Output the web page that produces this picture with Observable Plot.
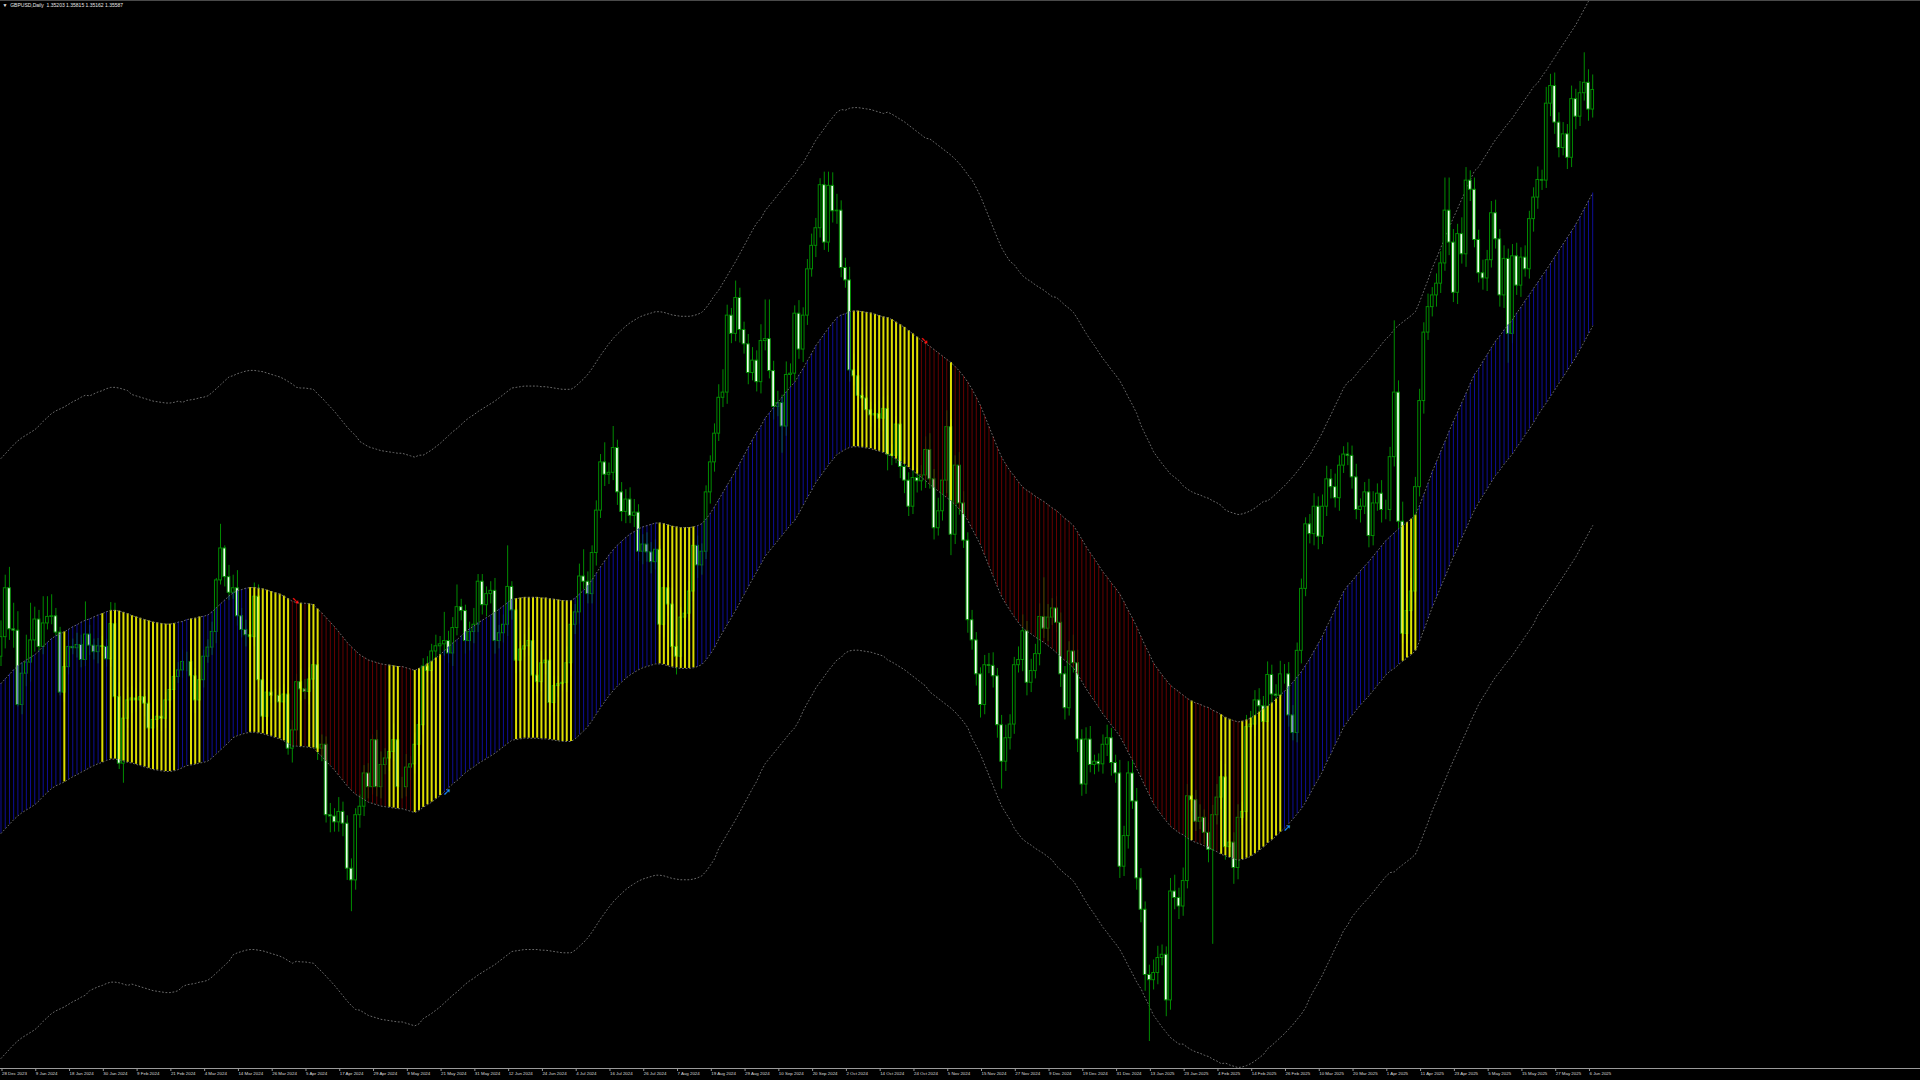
<!DOCTYPE html>
<html><head><meta charset="utf-8">
<script src="https://cdn.jsdelivr.net/npm/d3@7"></script>
<script src="https://cdn.jsdelivr.net/npm/@observablehq/plot@0.6"></script>
<style>html,body{margin:0;padding:0;background:#000;overflow:hidden}</style>
</head><body><div id="chart"></div>
<script>
const symbolHeader = "\u25BC  GBPUSD,Daily  1.35203 1.35815 1.35162 1.35587";
const tickLabels = ["28 Dec 2023","9 Jan 2024","18 Jan 2024","30 Jan 2024","9 Feb 2024","21 Feb 2024","4 Mar 2024","14 Mar 2024","26 Mar 2024","5 Apr 2024","17 Apr 2024","29 Apr 2024","9 May 2024","21 May 2024","31 May 2024","12 Jun 2024","24 Jun 2024","4 Jul 2024","16 Jul 2024","26 Jul 2024","7 Aug 2024","19 Aug 2024","29 Aug 2024","10 Sep 2024","20 Sep 2024","2 Oct 2024","14 Oct 2024","24 Oct 2024","5 Nov 2024","15 Nov 2024","27 Nov 2024","9 Dec 2024","19 Dec 2024","31 Dec 2024","13 Jan 2025","23 Jan 2025","4 Feb 2025","14 Feb 2025","26 Feb 2025","10 Mar 2025","20 Mar 2025","1 Apr 2025","11 Apr 2025","23 Apr 2025","5 May 2025","15 May 2025","27 May 2025","6 Jun 2025"];
const barsPerLabel = 8;
const firstOpen = 1.2690;
const closes = [
1.2720,1.2795,1.2732,1.2730,1.2616,1.2664,1.2681,1.2715,1.2747,1.2705,
1.2741,1.2751,1.2752,1.2727,1.2635,1.2674,1.2705,1.2703,1.2708,1.2685,
1.2724,1.2707,1.2697,1.2706,1.2705,1.2686,1.2740,1.2628,1.2526,1.2595,
1.2623,1.2626,1.2623,1.2628,1.2618,1.2580,1.2593,1.2598,1.2595,1.2623,
1.2639,1.2659,1.2669,1.2682,1.2682,1.2660,1.2623,1.2654,1.2690,1.2704,
1.2728,1.2807,1.2856,1.2812,1.2788,1.2795,1.2752,1.2731,1.2723,1.2720,
1.2782,1.2654,1.2598,1.2635,1.2630,1.2630,1.2620,1.2632,1.2549,1.2577,
1.2651,1.2640,1.2636,1.2655,1.2677,1.2549,1.2555,1.2447,1.2445,1.2436,
1.2452,1.2434,1.2365,1.2347,1.2447,1.2460,1.2511,1.2490,1.2562,1.2490,
1.2524,1.2534,1.2544,1.2562,1.2490,1.2490,1.2520,1.2525,1.2555,1.2585,
1.2675,1.2668,1.2698,1.2706,1.2709,1.2714,1.2695,1.2734,1.2766,1.2760,
1.2714,1.2728,1.2739,1.2805,1.2769,1.2786,1.2791,1.2714,1.2726,1.2739,
1.2797,1.2761,1.2684,1.2701,1.2706,1.2714,1.2661,1.2651,1.2680,1.2684,
1.2619,1.2645,1.2648,1.2650,1.2680,1.2739,1.2758,1.2813,1.2805,1.2786,
1.2849,1.2914,1.2988,1.2969,1.2972,1.3010,1.2942,1.2912,1.2931,1.2906,
1.2911,1.2851,1.2862,1.2850,1.2835,1.2854,1.2739,1.2795,1.2770,1.2705,
1.2690,1.2750,1.2756,1.2790,1.2860,1.2830,1.2851,1.2942,1.2988,1.3032,
1.3087,1.3095,1.3213,1.3185,1.3240,1.3191,1.3169,1.3125,1.3144,1.3111,
1.3174,1.3177,1.3128,1.3073,1.3079,1.3043,1.3122,1.3124,1.3216,1.3161,
1.3213,1.3284,1.3320,1.3347,1.3413,1.3325,1.3412,1.3373,1.3374,1.3286,
1.3267,1.3129,1.3120,1.3090,1.3086,1.3068,1.3060,1.3062,1.3055,1.3070,
1.3000,1.2998,1.3046,1.2981,1.2960,1.2920,1.2964,1.2959,1.2968,1.3007,
1.2962,1.2887,1.2913,1.2960,1.3042,1.2877,1.2983,1.2925,1.2868,1.2746,
1.2715,1.2663,1.2616,1.2677,1.2676,1.2660,1.2585,1.2529,1.2565,1.2586,
1.2677,1.2685,1.2729,1.2650,1.2668,1.2694,1.2751,1.2733,1.2750,1.2764,
1.2742,1.2663,1.2611,1.2698,1.2680,1.2563,1.2494,1.2563,1.2524,1.2529,
1.2525,1.2555,1.2565,1.2527,1.2511,1.2368,1.2415,1.2511,1.2468,1.2350,
1.2302,1.2202,1.2194,1.2205,1.2228,1.2233,1.2163,1.2330,1.2320,1.2307,
1.2346,1.2476,1.2470,1.2437,1.2443,1.2420,1.2394,1.2447,1.2474,1.2505,
1.2398,1.2405,1.2366,1.2443,1.2452,1.2582,1.2586,1.2623,1.2614,1.2590,
1.2662,1.2632,1.2630,1.2663,1.2663,1.2600,1.2573,1.2699,1.2794,1.2893,
1.2878,1.2920,1.2874,1.2920,1.2962,1.2950,1.2933,1.2983,1.3000,1.2998,
1.2965,1.2915,1.2920,1.2942,1.2875,1.2925,1.2940,1.2915,1.2915,1.2996,
1.3095,1.2897,1.2725,1.2760,1.2790,1.2950,1.3082,1.3187,1.3226,1.3244,
1.3262,1.3293,1.3374,1.3325,1.3248,1.3338,1.3307,1.3420,1.3406,1.3329,
1.3278,1.3270,1.3298,1.3370,1.3330,1.3244,1.3300,1.3185,1.3304,1.3259,
1.3302,1.3284,1.3361,1.3394,1.3421,1.3420,1.3538,1.3565,1.3509,1.3470,
1.3491,1.3455,1.3545,1.3518,1.3554,1.3570,1.3529,1.3559];
const upperWickPips = [
25,20,32,40,29,16,42,57,19,14, 41,31,33,12,8,6,10,12,18,15, 50,14,10,12,15,12,33,32,22,5,
20,18,15,22,12,20,15,25,18,12, 15,10,12,18,15,20,12,15,10,12, 15,3,37,4,18,20,27,12,15,20,
21,18,12,15,20,10,12,15,10,15, 12,20,15,18,25,20,15,12,18,12, 22,15,12,15,10,18,12,15,8,15,
20,15,90,25,15,15,20,12,18,15, 12,15,11,17,12,44,15,16,34,12, 9,15,25,11,11,11,14,19,12,15,
63,8,15,12,18,20,15,22,18,15, 18,15,12,20,25,15,12,19,41,15, 11,15,12,30,15,33,12,15,15,18,
20,12,15,18,15,15,6,45,20,25, 18,15,20,15,10,15,12,10,10,15, 20,35,16,11,26,15,12,15,20,15,
25,60,60,15,18,12,20,15,12,20, 12,15,18,15,10,20,21,20,25,15, 15,20,25,15,12,18,12,15,20,18,
20,15,12,30,15,12,18,15,15,20, 25,15,20,15,25,12,15,20,18,12, 15,12,10,15,18,20,12,15,20,15,
12,20,25,15,18,15,20,60,20,15, 18,15,12,15,25,20,15,18,20,10, 12,15,20,15,12,20,15,18,25,20,
15,12,15,20,18,15,12,20,25,15, 20,18,25,15,20,12,15,15,20,25, 20,15,15,20,15,18,20,15,18,15,
20,15,15,20,15,18,15,12,15,10, 15,20,15,18,20,15,20,15,12,18, 15,20,12,15,20,18,15,20,15,15,
110,18,30,25,20,15,18,15,20,12, 15,18,50,50,20,15,25,20,15,18, 15,20,15,18,20,15,20,15,18,20,
15,18,12,15,20,15,25,18,20,15, 18,15,20,15,18,46,20,23];
const lowerWickPips = [
15,18,17,27,3,15,20,30,18,8, 12,10,12,6,5,15,12,10,15,12, 10,15,12,18,15,12,12,3,9,30,
15,20,18,12,20,44,15,12,20,15, 12,15,10,12,15,18,20,15,12,10, 12,18,7,15,12,10,15,12,18,20,
15,12,20,15,12,10,15,12,10,22, 15,18,12,20,15,18,20,12,25,15, 15,20,18,48,15,20,15,18,12,15,
18,15,20,15,25,18,15,20,15,18, 15,18,20,12,15,18,15,20,12,15, 20,15,18,12,15,18,15,20,12,15,
18,15,20,18,12,15,20,18,15,18, 20,15,18,12,15,20,15,18,12,15, 15,20,12,18,15,12,20,15,18,12,
18,15,20,15,18,12,15,20,18,15, 28,15,18,12,15,20,15,12,18,15, 12,15,18,15,12,20,15,18,12,15,
18,15,12,20,15,41,15,18,12,15, 20,15,12,18,15,12,15,18,20,15, 12,18,15,20,12,15,18,12,15,20,
25,15,12,18,20,15,12,18,15,20, 15,18,12,15,20,32,15,18,12,20, 15,18,20,15,12,18,20,42,15,18,
15,12,18,20,15,12,18,15,20,12, 15,20,18,12,15,20,18,15,12,15, 12,15,18,20,15,18,15,20,12,18,
20,25,94,15,18,12,25,15,18,20, 15,12,18,15,12,18,20,145,15,18, 20,15,25,18,12,15,20,18,15,12,
15,18,12,20,15,18,12,15,20,12, 15,18,20,12,15,18,15,20,12,15, 18,15,20,12,18,15,12,20,15,18,
15,20,15,15,54,18,15,20,12,15, 18,15,12,20,15,18,15,20,18,12, 15,18,20,12,15,18,20,45,15,15,
18,12,15,20,18,15,12,20,18,15, 12,18,15,20,15,12,18,13];
const channelMid = [
1.2534,1.2541,1.2548,1.2555,1.2561,1.2566,1.2570,1.2574,1.2578,1.2584,
1.2591,1.2597,1.2603,1.2607,1.2610,1.2613,1.2617,1.2621,1.2624,1.2628,
1.2631,1.2634,1.2637,1.2640,1.2642,1.2645,1.2647,1.2647,1.2646,1.2644,
1.2642,1.2640,1.2638,1.2636,1.2634,1.2632,1.2630,1.2629,1.2628,1.2627,
1.2627,1.2628,1.2630,1.2632,1.2635,1.2636,1.2637,1.2639,1.2640,1.2642,
1.2647,1.2653,1.2659,1.2665,1.2671,1.2677,1.2680,1.2682,1.2684,1.2685,
1.2685,1.2684,1.2683,1.2681,1.2679,1.2677,1.2675,1.2672,1.2668,1.2664,
1.2663,1.2662,1.2662,1.2661,1.2660,1.2653,1.2647,1.2640,1.2633,1.2626,
1.2618,1.2610,1.2602,1.2595,1.2589,1.2584,1.2580,1.2576,1.2574,1.2572,
1.2570,1.2569,1.2568,1.2567,1.2566,1.2566,1.2564,1.2562,1.2560,1.2563,
1.2567,1.2571,1.2575,1.2580,1.2585,1.2591,1.2597,1.2603,1.2608,1.2614,
1.2620,1.2625,1.2629,1.2634,1.2638,1.2642,1.2646,1.2650,1.2655,1.2660,
1.2665,1.2670,1.2671,1.2672,1.2673,1.2673,1.2673,1.2673,1.2672,1.2672,
1.2671,1.2670,1.2669,1.2668,1.2668,1.2668,1.2672,1.2678,1.2684,1.2691,
1.2700,1.2710,1.2720,1.2729,1.2738,1.2746,1.2753,1.2759,1.2765,1.2770,
1.2774,1.2778,1.2781,1.2783,1.2785,1.2787,1.2787,1.2786,1.2784,1.2782,
1.2781,1.2780,1.2780,1.2780,1.2781,1.2783,1.2786,1.2793,1.2802,1.2812,
1.2824,1.2835,1.2846,1.2857,1.2868,1.2880,1.2892,1.2904,1.2916,1.2927,
1.2938,1.2950,1.2958,1.2966,1.2974,1.2982,1.2990,1.2998,1.3005,1.3016,
1.3027,1.3039,1.3050,1.3062,1.3071,1.3080,1.3089,1.3097,1.3105,1.3109,
1.3112,1.3115,1.3116,1.3116,1.3115,1.3114,1.3113,1.3111,1.3109,1.3107,
1.3105,1.3102,1.3098,1.3094,1.3090,1.3085,1.3080,1.3075,1.3070,1.3065,
1.3060,1.3055,1.3050,1.3045,1.3040,1.3035,1.3029,1.3022,1.3014,1.3005,
1.2993,1.2981,1.2968,1.2952,1.2936,1.2920,1.2904,1.2889,1.2878,1.2868,
1.2859,1.2850,1.2842,1.2837,1.2833,1.2828,1.2824,1.2820,1.2815,1.2810,
1.2805,1.2799,1.2793,1.2788,1.2782,1.2772,1.2761,1.2750,1.2740,1.2731,
1.2721,1.2711,1.2703,1.2694,1.2686,1.2677,1.2665,1.2652,1.2640,1.2627,
1.2613,1.2599,1.2586,1.2572,1.2563,1.2554,1.2546,1.2538,1.2533,1.2528,
1.2524,1.2519,1.2515,1.2512,1.2510,1.2507,1.2505,1.2501,1.2498,1.2494,
1.2491,1.2488,1.2486,1.2484,1.2485,1.2487,1.2490,1.2494,1.2499,1.2504,
1.2509,1.2514,1.2520,1.2526,1.2532,1.2539,1.2546,1.2554,1.2562,1.2572,
1.2583,1.2595,1.2606,1.2618,1.2632,1.2645,1.2659,1.2672,1.2686,1.2695,
1.2703,1.2711,1.2719,1.2726,1.2733,1.2741,1.2749,1.2757,1.2765,1.2771,
1.2776,1.2782,1.2787,1.2792,1.2797,1.2803,1.2818,1.2835,1.2852,1.2870,
1.2885,1.2901,1.2916,1.2932,1.2947,1.2961,1.2976,1.2990,1.3005,1.3019,
1.3029,1.3040,1.3050,1.3061,1.3071,1.3079,1.3088,1.3096,1.3104,1.3114,
1.3123,1.3133,1.3142,1.3152,1.3162,1.3172,1.3181,1.3191,1.3201,1.3211,
1.3221,1.3231,1.3241,1.3251,1.3263,1.3275,1.3287,1.3299];
// channel half-width in pips, as [value, number of bars]
const halfWidthRuns = [[115,21],[114,10],[113,12],[112,12],[111,15],[110,15],[109,15],[108,70],
  [107,10],[106,10],[105,10],[104,10],[105,10],[106,10],[107,10],[108,10],[109,20],
  [108,10],[107,10],[106,10],[105,10],[104,10],[103,10],[104,20],[103,14],[102,14]];
const outerMultiple = 4;
// channel state per bar: B = up (blue), R = down (red), Y = inside (yellow)
const stateRuns = [["B",15],["Y",1],["B",8],["Y",1],["B",1],["Y",16],["B",3],["Y",3],["B",11],["Y",10],
  ["R",2],["Y",1],["R",1],["Y",3],["R",16],["Y",3],["R",3],["Y",7],["B",17],["Y",14],["B",20],["Y",9],
  ["B",37],["Y",16],["R",7],["Y",1],["R",56],["Y",1],["R",6],["Y",3],["R",2],["Y",10],["B",28],["Y",4],["B",42]];

const expand = runs => runs.flatMap(([v, n]) => Array(n).fill(v));
const halfWidth = expand(halfWidthRuns).map(p => p / 10000);
const states = expand(stateRuns);
const bars = closes.map((c, i) => {
  const o = i === 0 ? firstOpen : closes[i - 1];
  const m = channelMid[i], h = halfWidth[i];
  return {
    i, o, c, up: c >= o,
    hi: Math.max(o, c) + upperWickPips[i] / 10000,
    lo: Math.min(o, c) - lowerWickPips[i] / 10000,
    state: states[i], top: m + h, bot: m - h,
    outerTop: m + outerMultiple * h, outerBot: m - outerMultiple * h
  };
});
const arrows = [];
let lastTrend = null;
for (const b of bars) {
  if (b.state === "Y") continue;
  if (lastTrend && b.state !== lastTrend) arrows.push(b);
  lastTrend = b.state;
}
const yDomain = [1.20586, 1.36962];
const xDomain = [-0.118, 454.64];
const tickBars = tickLabels.map((_, k) => k * barsPerLabel);
const dots = "1,2.5";
const edge = "#6a6a6a";
const green = "#008c00";

const chart = Plot.plot({
  width: 1920, height: 1080,
  marginTop: 0, marginRight: 0, marginLeft: 0, marginBottom: 12,
  style: {background: "#000", fontFamily: "'Liberation Sans', Arial, sans-serif"},
  x: {type: "linear", domain: xDomain},
  y: {domain: yDomain, axis: null},
  marks: [
    Plot.line(bars, {x: "i", y: "outerTop", stroke: edge, strokeWidth: 1, strokeDasharray: dots}),
    Plot.line(bars, {x: "i", y: "outerBot", stroke: edge, strokeWidth: 1, strokeDasharray: dots}),
    Plot.ruleX(bars, {x: "i", y1: "lo", y2: "hi", stroke: green, strokeWidth: 1}),
    Plot.rect(bars, {x1: d => d.i - 0.32, x2: d => d.i + 0.32, y1: "o", y2: "c",
      fill: d => d.up ? "#000" : "#f2fff2", stroke: green, strokeWidth: 1}),
    Plot.ruleX(bars.filter(d => d.state === "B"), {x: "i", y1: "bot", y2: "top", stroke: "#1010a8", strokeWidth: 1, strokeOpacity: 0.9}),
    Plot.ruleX(bars.filter(d => d.state === "R"), {x: "i", y1: "bot", y2: "top", stroke: "#700000", strokeWidth: 1, strokeOpacity: 0.9}),
    Plot.ruleX(bars.filter(d => d.state === "Y"), {x: "i", y1: "bot", y2: "top", stroke: "#f0f000", strokeWidth: 2, strokeOpacity: 0.92}),
    Plot.line(bars, {x: "i", y: "top", stroke: edge, strokeWidth: 1, strokeDasharray: dots}),
    Plot.line(bars, {x: "i", y: "bot", stroke: edge, strokeWidth: 1, strokeDasharray: dots}),
    Plot.text(arrows, {x: "i", y: d => d.state === "R" ? d.top : d.bot,
      text: d => d.state === "R" ? "\u2798" : "\u279A",
      fill: d => d.state === "R" ? "#ff1010" : "#1e90ff",
      fontSize: 10, fontWeight: "bold", dx: 3, fontFamily: "DejaVu Sans"}),
    Plot.ruleY([yDomain[0]], {stroke: "#9a9a9a", strokeWidth: 1}),
    Plot.ruleY([yDomain[1]], {stroke: "#4a4a4a", strokeWidth: 1}),
    Plot.axisX({ticks: tickBars, tickFormat: d => tickLabels[d / barsPerLabel], anchor: "bottom",
      textAnchor: "start", tickSize: 3, tickPadding: 0.5, dx: 1, fontSize: 4.4,
      stroke: "#9a9a9a", fill: "#dcdcdc", label: null}),
    Plot.text([symbolHeader], {frameAnchor: "top-left", dx: 2, dy: 3, text: d => d,
      fill: "#e8e8e8", fontSize: 5, textAnchor: "start", lineAnchor: "top"})
  ]
});
document.getElementById("chart").appendChild(chart);
</script>
</body></html>
